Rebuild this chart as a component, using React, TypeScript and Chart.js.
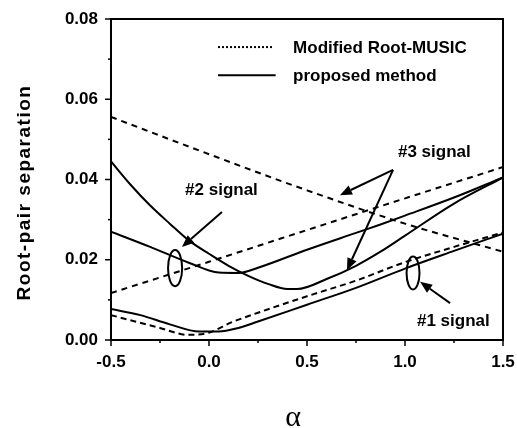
import React, { useEffect, useRef } from 'react';
import { Chart, registerables } from 'chart.js';

Chart.register(...registerables);

// ---- data (alpha, root-pair separation) ----
const mod1Alpha = [-0.5, -0.25, -0.11, -0.01, 0.12, 0.25, 0.5, 0.75, 1.0, 1.25, 1.5];
const mod1Sep = [0.0062, 0.003, 0.0013, 0.0017, 0.0045, 0.0068, 0.0109, 0.0148, 0.0194, 0.0232, 0.0268];

const prop1Alpha = [-0.5, -0.35, -0.2, -0.05, 0.05, 0.15, 0.25, 0.5, 0.75, 1.0, 1.25, 1.5];
const prop1Sep = [0.0077, 0.0062, 0.0039, 0.0021, 0.0021, 0.003, 0.0046, 0.0088, 0.013, 0.0178, 0.0222, 0.0265];

const mod2Alpha = [-0.5, 0, 0.5, 1.0, 1.5];
const mod2Sep = [0.0556, 0.0463, 0.0373, 0.029, 0.022];

const prop2Alpha = [-0.5, -0.3, -0.1, 0.05, 0.15, 0.25, 0.5, 0.75, 0.875, 1.0, 1.25, 1.5];
const prop2Sep = [0.027, 0.0232, 0.0192, 0.0168, 0.0167, 0.018, 0.0225, 0.0267, 0.0288, 0.031, 0.0355, 0.0405];

const mod3Alpha = [-0.5, 0, 0.5, 1.0, 1.5];
const mod3Sep = [0.0117, 0.0195, 0.0274, 0.0353, 0.0431];

const prop3Alpha = [-0.5, -0.4, -0.3, -0.2, -0.1, 0, 0.1, 0.2, 0.3, 0.4, 0.45, 0.6, 0.75, 0.875, 1.0, 1.25, 1.5];
const prop3Sep = [0.0445, 0.0387, 0.0335, 0.029, 0.0247, 0.0215, 0.0185, 0.016, 0.014, 0.0127, 0.0127, 0.0152, 0.0185, 0.022, 0.026, 0.034, 0.0405];

const xMin = -0.5;
const xMax = 1.5;
const yMin = 0;
const yMax = 0.08;
const xStep = 0.25;
const yStep = 0.01;

const legendLabels = ['Modified Root-MUSIC', 'proposed method'];
const signalLabels = ['#1 signal', '#2 signal', '#3 signal'];
const xTitle = 'α';
const yTitle = 'Root-pair separation';

// annotation anchors in data units
const legendRows = [0.073, 0.066];
const legendLineFrom = 0.046;
const legendLineTo = 0.34;
const legendTextAt = 0.429;
const signalLabelPos = [
  [1.061, 0.0047],
  [-0.122, 0.0374],
  [0.964, 0.0469],
];
const ellipses = [
  // cx, cy, rx, ry
  [1.041, 0.0167, 0.033, 0.0041],
  [-0.173, 0.0179, 0.036, 0.0045],
];
const arrows = [
  // from, to
  [1.23, 0.0092, 1.077, 0.0145],
  [0.066, 0.0319, -0.138, 0.0232],
  [0.939, 0.0424, 0.668, 0.0361],
  [0.939, 0.0424, 0.704, 0.0174],
];

const FONT = '"Liberation Sans", Arial, Helvetica, sans-serif';

const pts = (xs: number[], ys: number[]) => xs.map((x, i) => ({ x, y: ys[i] }));

const isMult = (v: number, m: number) => Math.abs(v / m - Math.round(v / m)) < 1e-6;

const decoPlugin = {
  id: 'deco',
  afterDraw(chart: any) {
    const { ctx, chartArea: a, scales } = chart;
    const xs = scales.x;
    const ys = scales.y;
    const px = (v: number) => xs.getPixelForValue(v);
    const py = (v: number) => ys.getPixelForValue(v);
    ctx.save();
    ctx.strokeStyle = '#000';
    ctx.fillStyle = '#000';
    ctx.setLineDash([]);

    // frame
    ctx.lineWidth = 2;
    ctx.strokeRect(a.left, a.top, a.right - a.left, a.bottom - a.top);

    // tick marks
    ctx.lineWidth = 1.5;
    xs.ticks.forEach((t: any) => {
      const p = px(t.value);
      const len = isMult(t.value, 0.5) ? 6 : 3;
      ctx.beginPath();
      ctx.moveTo(p, a.bottom);
      ctx.lineTo(p, a.bottom + len);
      ctx.stroke();
    });
    ys.ticks.forEach((t: any) => {
      const p = py(t.value);
      const len = isMult(t.value, 0.02) ? 6 : 3;
      ctx.beginPath();
      ctx.moveTo(a.left, p);
      ctx.lineTo(a.left - len, p);
      ctx.stroke();
    });

    // legend
    ctx.lineWidth = 2;
    ctx.font = `bold 17px ${FONT}`;
    ctx.textAlign = 'left';
    ctx.textBaseline = 'middle';
    legendLabels.forEach((label, i) => {
      const yy = py(legendRows[i]);
      ctx.setLineDash(i === 0 ? [2, 2] : []);
      ctx.beginPath();
      ctx.moveTo(px(legendLineFrom), yy);
      ctx.lineTo(px(legendLineTo) - (i === 0 ? 3 : 0), yy);
      ctx.stroke();
      ctx.setLineDash([]);
      ctx.fillText(label, px(legendTextAt), yy + 1);
    });

    // signal labels
    ctx.font = `bold 17px ${FONT}`;
    signalLabels.forEach((label, i) => {
      ctx.fillText(label, px(signalLabelPos[i][0]), py(signalLabelPos[i][1]));
    });

    // ellipses
    ctx.lineWidth = 2;
    ellipses.forEach(([cx, cy, rx, ry]) => {
      const cxp = px(cx);
      const cyp = py(cy);
      ctx.beginPath();
      ctx.ellipse(cxp, cyp, Math.abs(px(cx + rx) - cxp), Math.abs(py(cy + ry) - cyp), 0, 0, Math.PI * 2);
      ctx.stroke();
    });

    // arrows
    arrows.forEach(([x1, y1, x2, y2]) => {
      const ax = px(x1), ay = py(y1), bx = px(x2), by = py(y2);
      const ang = Math.atan2(by - ay, bx - ax);
      const hl = 12, hw = 5;
      const baseX = bx - hl * Math.cos(ang);
      const baseY = by - hl * Math.sin(ang);
      ctx.lineWidth = 2;
      ctx.beginPath();
      ctx.moveTo(ax, ay);
      ctx.lineTo(baseX, baseY);
      ctx.stroke();
      ctx.beginPath();
      ctx.moveTo(bx, by);
      ctx.lineTo(baseX + hw * Math.sin(ang), baseY - hw * Math.cos(ang));
      ctx.lineTo(baseX - hw * Math.sin(ang), baseY + hw * Math.cos(ang));
      ctx.closePath();
      ctx.fill();
    });

    // axis titles
    ctx.save();
    ctx.font = `bold 19px ${FONT}`;
    try { (ctx as any).letterSpacing = '1.5px'; } catch (e) {}
    ctx.textAlign = 'center';
    ctx.textBaseline = 'middle';
    ctx.translate(a.left - 86, (a.top + a.bottom) / 2 + 13);
    ctx.rotate(-Math.PI / 2);
    ctx.fillText(yTitle, 0, 0);
    ctx.restore();

    ctx.font = `30px "Liberation Serif", "DejaVu Serif", serif`;
    ctx.textAlign = 'center';
    ctx.textBaseline = 'alphabetic';
    ctx.fillText(xTitle, (a.left + a.right) / 2 - 14, a.bottom + 86);

    ctx.restore();
  },
};

export default function App() {
  const canvasRef = useRef<HTMLCanvasElement | null>(null);

  useEffect(() => {
    if (!canvasRef.current) return;
    const solid = { borderColor: '#000', borderWidth: 2, pointRadius: 0, fill: false, cubicInterpolationMode: 'monotone' as const };
    const dashed = { ...solid, borderDash: [6, 5] };
    const chart = new Chart(canvasRef.current, {
      type: 'line',
      data: {
        datasets: [
          { label: 'Modified Root-MUSIC #1', data: pts(mod1Alpha, mod1Sep), ...dashed, borderDash: [6, 4] },
          { label: 'proposed method #1', data: pts(prop1Alpha, prop1Sep), ...solid },
          { label: 'Modified Root-MUSIC #2', data: pts(mod2Alpha, mod2Sep), ...dashed },
          { label: 'proposed method #2', data: pts(prop2Alpha, prop2Sep), ...solid },
          { label: 'Modified Root-MUSIC #3', data: pts(mod3Alpha, mod3Sep), ...dashed },
          { label: 'proposed method #3', data: pts(prop3Alpha, prop3Sep), ...solid },
        ],
      },
      options: {
        responsive: false,
        animation: false,
        devicePixelRatio: 1,
        layout: { padding: { top: 19, right: 14, left: 0, bottom: 0 } },
        plugins: { legend: { display: false }, tooltip: { enabled: false } },
        scales: {
          x: {
            type: 'linear',
            min: xMin,
            max: xMax,
            grid: { display: false, drawTicks: false },
            border: { display: false },
            ticks: {
              stepSize: xStep,
              padding: 12,
              color: '#000',
              font: { family: FONT, size: 17, weight: 'bold' },
              callback: (v: any) => (isMult(Number(v), 0.5) ? Number(v).toFixed(1) : ''),
            },
            afterFit: (s: any) => {
              s.height = 88;
              s.paddingLeft = 0;
              s.paddingRight = 0;
            },
          },
          y: {
            type: 'linear',
            min: yMin,
            max: yMax,
            grid: { display: false, drawTicks: false },
            border: { display: false },
            ticks: {
              stepSize: yStep,
              padding: 13,
              color: '#000',
              font: { family: FONT, size: 17, weight: 'bold' },
              callback: (v: any) => (isMult(Number(v), 0.02) ? Number(v).toFixed(2) : ''),
            },
            afterFit: (s: any) => {
              s.width = 111;
              s.paddingTop = 0;
              s.paddingBottom = 0;
            },
          },
        },
      },
      plugins: [decoPlugin],
    } as any);
    return () => chart.destroy();
  }, []);

  return (
    <div style={{ position: 'fixed', left: 0, top: 0, width: 517, height: 428, background: '#fff' }}>
      <canvas ref={canvasRef} width={517} height={428} />
    </div>
  );
}
